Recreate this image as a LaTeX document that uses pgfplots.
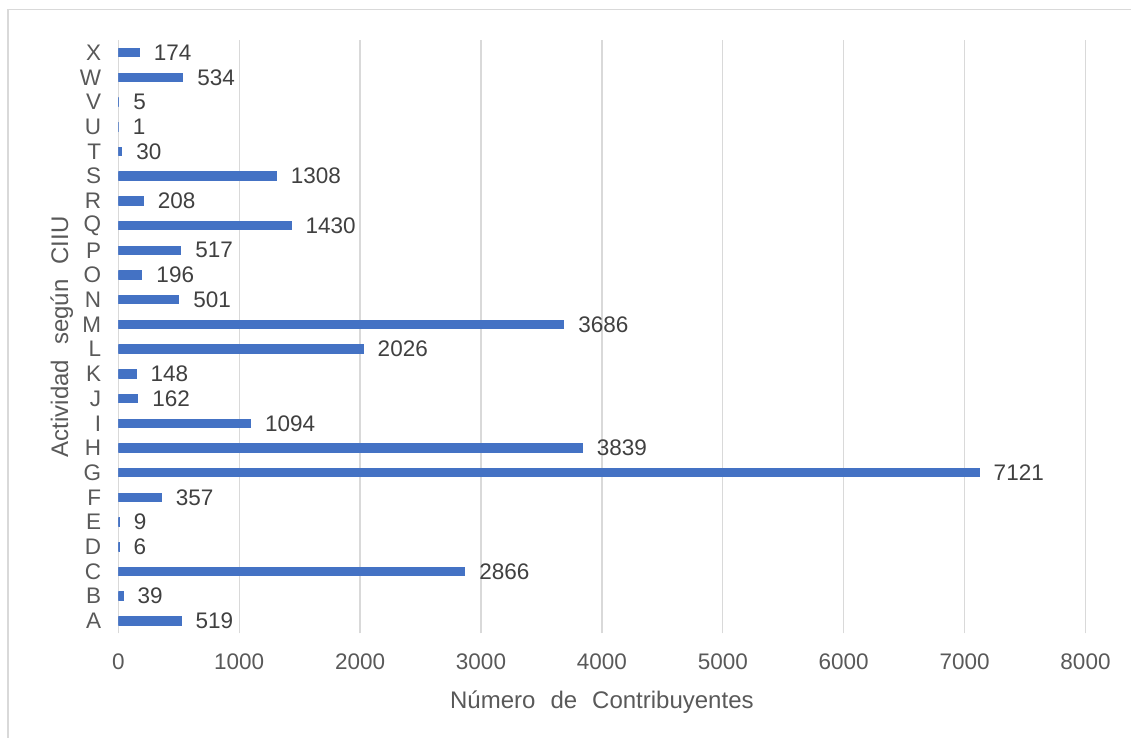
\documentclass[border=0pt]{standalone}
\usepackage{pgfplots}
\pgfplotsset{compat=1.18}
\usepackage{fontspec}
\setmainfont{Liberation Sans}

\definecolor{barblue}{HTML}{4472C4}
\definecolor{gridgray}{HTML}{D9D9D9}
\definecolor{ticktext}{HTML}{595959}
\definecolor{valtext}{HTML}{404040}

\newcommand{\ticksize}{\fontsize{22.5}{27}\selectfont}
\newcommand{\titlesize}{\fontsize{24}{29}\selectfont}

\begin{document}
\begin{tikzpicture}[x=1pt,y=1pt]
\useasboundingbox (0,0) rectangle (1131,737);
\clip (0,0) rectangle (1131,737);
% chart-area frame
\draw[gridgray, line width=1.5pt] (8,-20) rectangle (1160,727.5);
\begin{axis}[
  at={(118.3pt,103.7pt)}, anchor=south west,
  scale only axis, width=967.2pt, height=593pt,
  xbar, bar width=8.5pt,
  xmin=0, xmax=8000, ymin=-0.5, ymax=23.5,
  xtick={0,1000,...,8000},
  ytick={0,...,23},
  yticklabels={A,B,C,D,E,F,G,H,I,J,K,L,M,N,O,P,Q,R,S,T,U,V,W,X},
  scaled x ticks=false,
  /pgf/number format/1000 sep={},
  /pgf/number format/assume math mode=true,
  axis line style={draw=none},
  major tick length=0pt,
  xmajorgrids,
  grid style={gridgray, line width=1.3pt},
  tick label style={font=\ticksize, text=ticktext, inner sep=0pt},
  xticklabel shift=20pt,
  yticklabel shift=17pt,
  xlabel={Número\hspace{15pt}de\hspace{15pt}Contribuyentes},
  ylabel={Actividad\hspace{15pt}según\hspace{15pt}CIIU},
  every axis x label/.style={at={(axis description cs:0.5,-0.126)}, anchor=base,
    font=\titlesize, text=ticktext, inner sep=0pt},
  every axis y label/.style={at={(axis description cs:-0.052,0.5)}, anchor=base, rotate=90,
    font=\titlesize, text=ticktext, inner sep=0pt},
  nodes near coords,
  nodes near coords style={font=\ticksize, text=valtext, inner sep=0pt, anchor=west, xshift=14pt},
]
\addplot[fill=barblue, draw=barblue, line width=1pt] coordinates {
  (519,0) (39,1) (2866,2) (6,3) (9,4) (357,5) (7121,6) (3839,7)
  (1094,8) (162,9) (148,10) (2026,11) (3686,12) (501,13) (196,14)
  (517,15) (1430,16) (208,17) (1308,18) (30,19) (1,20) (5,21)
  (534,22) (174,23)
};
\end{axis}
\end{tikzpicture}
\end{document}
